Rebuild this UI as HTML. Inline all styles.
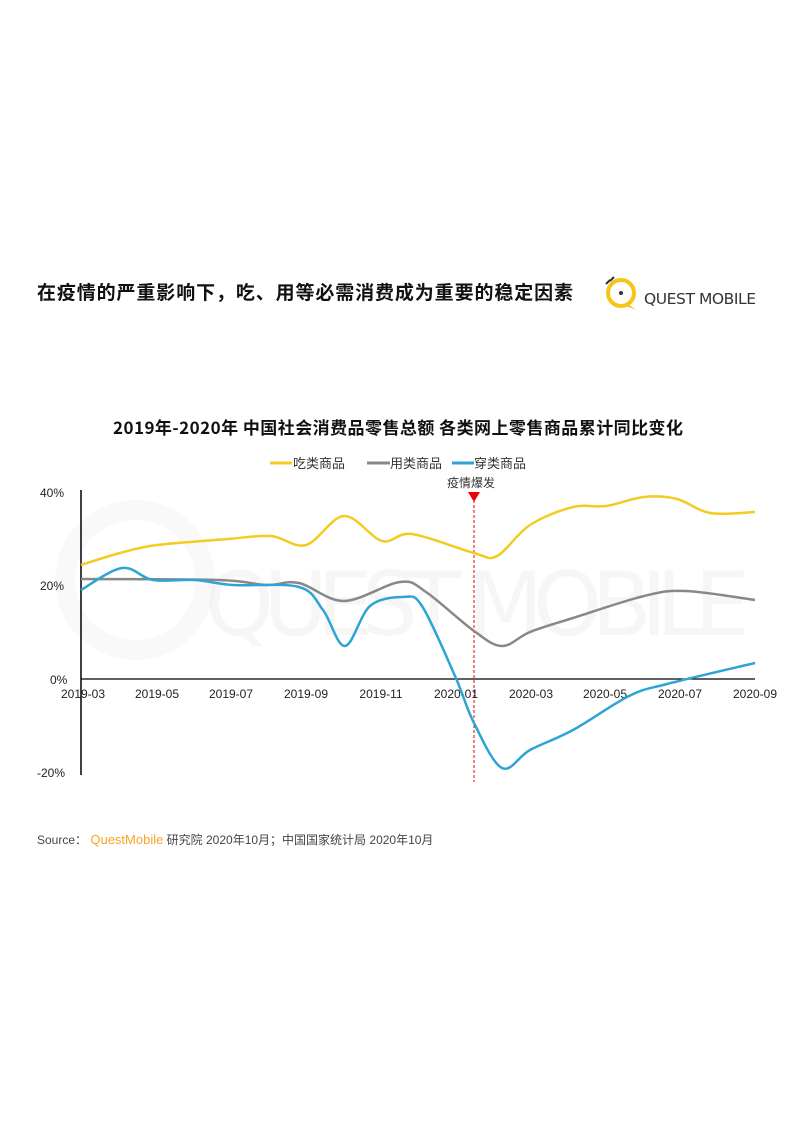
<!DOCTYPE html>
<html><head><meta charset="utf-8">
<style>
html,body{margin:0;padding:0;background:#fff;}
svg{display:block;font-family:"Liberation Sans","Noto Sans CJK SC",sans-serif;}
</style></head>
<body>
<svg id="s" width="794" height="1123" viewBox="0 0 794 1123" xmlns="http://www.w3.org/2000/svg">
<rect width="794" height="1123" fill="#fff"/>
<text x="37" y="299" font-size="19" font-weight="bold" fill="#111" textLength="536" font-family="Noto Sans CJK SC,sans-serif">在疫情的严重影响下，吃、用等必需消费成为重要的稳定因素</text>
<g>
<circle cx="621" cy="293" r="13" fill="none" stroke="#f5c518" stroke-width="4"/>
<path d="M628 304 L636 310 L626 306Z" fill="#f5c518"/>
<circle cx="621" cy="293" r="2" fill="#333"/>
<path d="M606 284 l4 -4 M610 281 l4 -4" stroke="#333" stroke-width="2"/>
<text x="644" y="304" font-size="15.5" fill="#333" textLength="112" font-family="DejaVu Sans,sans-serif">QUEST MOBILE</text>
</g>
<g opacity="0.025" fill="none" stroke="#000" stroke-width="20">
<circle cx="135" cy="580" r="70"/>
</g>
<text x="205" y="635" font-size="88" fill="#000" opacity="0.03" textLength="545" font-family="DejaVu Sans,sans-serif">QUEST MOBILE</text>

<text x="113" y="434" font-size="17" font-weight="bold" fill="#111" textLength="570" font-family="Noto Sans CJK SC,sans-serif">2019年-2020年 中国社会消费品零售总额 各类网上零售商品累计同比变化</text>
<line x1="270" y1="463" x2="292" y2="463" stroke="#f2cc21" stroke-width="3"/>
<text x="293" y="468" font-size="13" fill="#333">吃类商品</text>
<line x1="367" y1="463" x2="390" y2="463" stroke="#888" stroke-width="3"/>
<text x="390" y="468" font-size="13" fill="#333">用类商品</text>
<line x1="452" y1="463" x2="474" y2="463" stroke="#2ea4d5" stroke-width="3"/>
<text x="474" y="468" font-size="13" fill="#333">穿类商品</text>
<text x="447" y="487" font-size="12" fill="#333">疫情爆发</text>
<path d="M468 492 L480 492 L474 502Z" fill="#e00"/>
<line x1="474" y1="500" x2="474" y2="782" stroke="#e00" stroke-width="1" stroke-dasharray="3,2"/>
<line x1="81" y1="490" x2="81" y2="775" stroke="#000" stroke-width="1.5"/>
<line x1="81" y1="679" x2="755" y2="679" stroke="#000" stroke-width="1.2"/>
<g font-size="12" fill="#222">
<text x="40" y="497">40%</text>
<text x="40" y="590">20%</text>
<text x="50" y="684">0%</text>
<text x="37" y="777">-20%</text>
</g>
<g font-size="12" fill="#222" text-anchor="middle">
<text x="83" y="698">2019-03</text><text x="157" y="698">2019-05</text><text x="231" y="698">2019-07</text>
<text x="306" y="698">2019-09</text><text x="381" y="698">2019-11</text><text x="456" y="698">2020-01</text>
<text x="531" y="698">2020-03</text><text x="605" y="698">2020-05</text><text x="680" y="698">2020-07</text>
<text x="755" y="698">2020-09</text>
</g>
<path id="py" fill="none" stroke="#f2cc21" stroke-width="2.5"/>
<path id="pg" fill="none" stroke="#888" stroke-width="2.5"/>
<path id="pb" fill="none" stroke="#2ea4d5" stroke-width="2.5"/>

<text x="37" y="844" font-size="12" fill="#444">Source： <tspan fill="#f5a623" font-size="13">QuestMobile</tspan> 研究院 2020年10月；中国国家统计局 2020年10月</text>
</svg>
<script>
function cr(p){var d="M"+p[0][0]+" "+p[0][1];for(var i=0;i<p.length-1;i++){var a=p[i-1]||p[i],b=p[i],c=p[i+1],e=p[i+2]||c;
d+=" C"+(b[0]+(c[0]-a[0])/6).toFixed(1)+" "+(b[1]+(c[1]-a[1])/6).toFixed(1)+" "+(c[0]-(e[0]-b[0])/6).toFixed(1)+" "+(c[1]-(e[1]-b[1])/6).toFixed(1)+" "+c[0]+" "+c[1];}return d;}
function z(xs,ys){return xs.map(function(x,i){return [x,ys[i]];});}
document.getElementById("py").setAttribute("d",cr(z([81,120,157,228,271,306,344,382,412,474,497,530,573,606,644,677,710,755],[565,553,545,539,536,545,516,541,534,553,556,525,507,506,497,499,513,512])));
document.getElementById("pg").setAttribute("d",cr(z([81,219,266,299,344,400,426,474,502,530,573,644,686,755],[579,580,585,583,601,582,592,631,646,632,618,596,591,600])));
document.getElementById("pb").setAttribute("d",cr(z([81,122,153,195,233,299,323,345,370,403,422,455,474,502,530,573,629,667,755],[590,568,580,580,585,587,610,646,606,597,606,676,723,768,750,730,696,684,663])));
</script>
</body></html>
